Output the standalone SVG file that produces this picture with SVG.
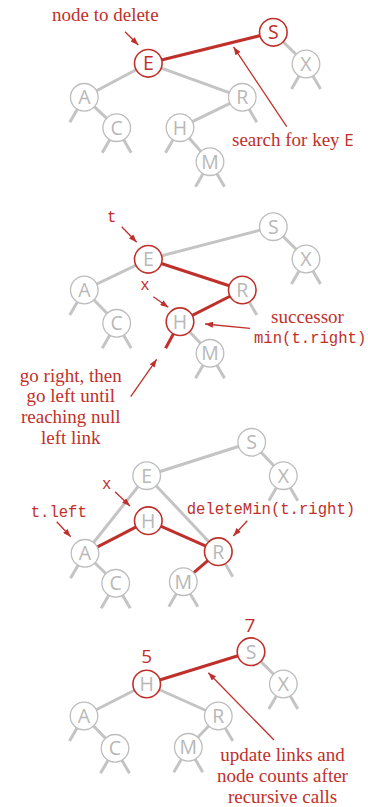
<svg xmlns="http://www.w3.org/2000/svg" width="368" height="807" viewBox="0 0 368 807">
<defs>
<style>
.bg{fill:#ffffff}
.lk{stroke:#c4c4c4;stroke-width:3;fill:none}
.rl{stroke:#c0302b;stroke-width:3;fill:none}
.nc{fill:#ffffff;stroke:#bdbdbd;stroke-width:1.3}
.rc{fill:#ffffff;stroke:#c0302b;stroke-width:1.6}
.nt{font-family:"Open Sans","DejaVu Sans",sans-serif;font-size:19.5px;fill:#b8b8b8;text-anchor:middle}
.rt{fill:#c0302b}
.ar{stroke:#c0302b;stroke-width:1.3;fill:none;marker-end:url(#ah)}
.sf{font-family:"Liberation Serif","Times New Roman",serif;font-size:19px;fill:#c0302b}
.mo{font-family:"Liberation Mono","Courier New",monospace;font-size:15.6px;fill:#c0302b}
.ss{font-family:"Open Sans","DejaVu Sans",sans-serif;font-size:19px;fill:#c0302b}
</style>
<marker id="ah" markerUnits="userSpaceOnUse" markerWidth="8" markerHeight="6" refX="8" refY="3" orient="auto">
<path d="M0,0 L8,3 L0,6 z" fill="#c0302b"/>
</marker>
</defs>
<rect class="bg" x="0" y="0" width="368" height="807"/>

<!-- ===== Panel 1 ===== -->
<g id="connectors1">
<line class="rl" x1="148.3" y1="63.3" x2="273.3" y2="32.3"/>
<line class="lk" x1="273.3" y1="32.3" x2="306" y2="64"/>
<line class="lk" x1="148.3" y1="63.3" x2="84.3" y2="97.3"/>
<line class="lk" x1="148.3" y1="63.3" x2="242.3" y2="97.3"/>
<line class="lk" x1="84.3" y1="97.3" x2="116.7" y2="127.7"/>
<line class="lk" x1="242.3" y1="97.3" x2="180" y2="127.7"/>
<line class="lk" x1="180" y1="127.7" x2="210" y2="161.7"/>
<line class="lk" x1="84.3" y1="97.3" x2="69.8" y2="122.3"/>
<line class="lk" x1="242.3" y1="97.3" x2="256.8" y2="122.3"/>
<line class="lk" x1="116.7" y1="127.7" x2="102.2" y2="152.7"/>
<line class="lk" x1="116.7" y1="127.7" x2="131.2" y2="152.7"/>
<line class="lk" x1="180" y1="127.7" x2="165.5" y2="152.7"/>
<line class="lk" x1="210" y1="161.7" x2="195.5" y2="186.7"/>
<line class="lk" x1="210" y1="161.7" x2="224.5" y2="186.7"/>
<line class="lk" x1="306" y1="64" x2="291.5" y2="89"/>
<line class="lk" x1="306" y1="64" x2="320.5" y2="89"/>
<line class="ar" x1="125" y1="31.7" x2="138.3" y2="45"/>
<line class="ar" x1="286.7" y1="126.7" x2="233.5" y2="46.9"/>
</g>
<g id="p1-E"><circle class="rc" cx="148.3" cy="63.3" r="13.8"/><text class="nt rt" x="148.3" y="70.3">E</text></g>
<g id="p1-S"><circle class="rc" cx="273.3" cy="32.3" r="13.8"/><text class="nt rt" x="273.3" y="39.3">S</text></g>
<g id="p1-X"><circle class="nc" cx="306" cy="64" r="13.8"/><text class="nt" x="306" y="71">X</text></g>
<g id="p1-A"><circle class="nc" cx="84.3" cy="97.3" r="13.8"/><text class="nt" x="84.3" y="104.3">A</text></g>
<g id="p1-R"><circle class="nc" cx="242.3" cy="97.3" r="13.8"/><text class="nt" x="242.3" y="104.3">R</text></g>
<g id="p1-C"><circle class="nc" cx="116.7" cy="127.7" r="13.8"/><text class="nt" x="116.7" y="134.7">C</text></g>
<g id="p1-H"><circle class="nc" cx="180" cy="127.7" r="13.8"/><text class="nt" x="180" y="134.7">H</text></g>
<g id="p1-M"><circle class="nc" cx="210" cy="161.7" r="13.8"/><text class="nt" x="210" y="168.7">M</text></g>
<text class="sf" x="105.3" y="21" text-anchor="middle">node to delete</text>
<text class="sf" x="232" y="145.7">search for key <tspan font-family="'Open Sans','DejaVu Sans',sans-serif" font-size="17px">E</tspan></text>

<!-- ===== Panel 2 ===== -->
<g id="connectors2">
<line class="lk" x1="148.3" y1="259.3" x2="273.3" y2="226.7"/>
<line class="lk" x1="273.3" y1="226.7" x2="306" y2="259"/>
<line class="lk" x1="148.3" y1="259.3" x2="84.3" y2="290"/>
<line class="rl" x1="148.3" y1="259.3" x2="242.3" y2="290"/>
<line class="lk" x1="84.3" y1="290" x2="116.7" y2="323.3"/>
<line class="rl" x1="242.3" y1="290" x2="180" y2="321.7"/>
<line class="lk" x1="180" y1="321.7" x2="210" y2="353.3"/>
<line class="rl" x1="180" y1="321.7" x2="165.6" y2="348.3"/>
<line class="lk" x1="84.3" y1="290" x2="69.8" y2="315"/>
<line class="lk" x1="242.3" y1="290" x2="256.8" y2="315"/>
<line class="lk" x1="116.7" y1="323.3" x2="102.2" y2="348.3"/>
<line class="lk" x1="116.7" y1="323.3" x2="131.2" y2="348.3"/>
<line class="lk" x1="210" y1="353.3" x2="195.5" y2="378.3"/>
<line class="lk" x1="210" y1="353.3" x2="224.5" y2="378.3"/>
<line class="lk" x1="306" y1="259" x2="291.5" y2="284"/>
<line class="lk" x1="306" y1="259" x2="320.5" y2="284"/>
<line class="ar" x1="121.7" y1="226.7" x2="136.7" y2="242.3"/>
<line class="ar" x1="153.3" y1="296.7" x2="168.3" y2="307.3"/>
<line class="ar" x1="250" y1="328.3" x2="205" y2="324"/>
<line class="ar" x1="130.7" y1="396.7" x2="156.7" y2="359.3"/>
</g>
<g id="p2-E"><circle class="rc" cx="148.3" cy="259.3" r="13.8"/><text class="nt" x="148.3" y="266.3">E</text></g>
<g id="p2-S"><circle class="nc" cx="273.3" cy="226.7" r="13.8"/><text class="nt" x="273.3" y="233.7">S</text></g>
<g id="p2-X"><circle class="nc" cx="306" cy="259" r="13.8"/><text class="nt" x="306" y="266">X</text></g>
<g id="p2-A"><circle class="nc" cx="84.3" cy="290" r="13.8"/><text class="nt" x="84.3" y="297">A</text></g>
<g id="p2-R"><circle class="rc" cx="242.3" cy="290" r="13.8"/><text class="nt" x="242.3" y="297">R</text></g>
<g id="p2-C"><circle class="nc" cx="116.7" cy="323.3" r="13.8"/><text class="nt" x="116.7" y="330.3">C</text></g>
<g id="p2-H"><circle class="rc" cx="180" cy="321.7" r="13.8"/><text class="nt" x="180" y="328.7">H</text></g>
<g id="p2-M"><circle class="nc" cx="210" cy="353.3" r="13.8"/><text class="nt" x="210" y="360.3">M</text></g>
<text class="mo" x="111.7" y="221.7" text-anchor="middle">t</text>
<text class="mo" x="145" y="290" text-anchor="middle">x</text>
<text class="sf" x="307.5" y="322.7" text-anchor="middle">successor</text>
<text class="mo" x="254" y="343.3">min(t.right)</text>
<text class="sf" x="70.8" y="381.7" text-anchor="middle">go right, then</text>
<text class="sf" x="70.8" y="402.2" text-anchor="middle">go left until</text>
<text class="sf" x="70.8" y="423" text-anchor="middle">reaching null</text>
<text class="sf" x="70.8" y="443.5" text-anchor="middle">left link</text>

<!-- ===== Panel 3 ===== -->
<g id="connectors3">
<line class="lk" x1="146.7" y1="475.7" x2="251.7" y2="442.3"/>
<line class="lk" x1="251.7" y1="442.3" x2="283.3" y2="475.7"/>
<line class="lk" x1="146.7" y1="475.7" x2="85" y2="553.3"/>
<line class="lk" x1="146.7" y1="475.7" x2="218.3" y2="551.7"/>
<line class="rl" x1="148.3" y1="520.7" x2="85" y2="553.3"/>
<line class="rl" x1="148.3" y1="520.7" x2="218.3" y2="551.7"/>
<line class="rl" x1="218.3" y1="551.7" x2="183.3" y2="581.7"/>
<line class="lk" x1="85" y1="553.3" x2="115.7" y2="583.3"/>
<line class="lk" x1="85" y1="553.3" x2="70.5" y2="578.3"/>
<line class="lk" x1="218.3" y1="551.7" x2="232.8" y2="576.7"/>
<line class="lk" x1="115.7" y1="583.3" x2="101.2" y2="608.3"/>
<line class="lk" x1="115.7" y1="583.3" x2="130.2" y2="608.3"/>
<line class="lk" x1="183.3" y1="581.7" x2="168.8" y2="606.7"/>
<line class="lk" x1="183.3" y1="581.7" x2="197.8" y2="606.7"/>
<line class="lk" x1="283.3" y1="475.7" x2="268.8" y2="500.7"/>
<line class="lk" x1="283.3" y1="475.7" x2="297.8" y2="500.7"/>
<line class="ar" x1="115" y1="491.7" x2="130" y2="506"/>
<line class="ar" x1="56.7" y1="521.7" x2="70.7" y2="536.7"/>
<line class="ar" x1="247.3" y1="520.7" x2="233.3" y2="536"/>
</g>
<g id="p3-S"><circle class="nc" cx="251.7" cy="442.3" r="13.8"/><text class="nt" x="251.7" y="449.3">S</text></g>
<g id="p3-E"><circle class="nc" cx="146.7" cy="475.7" r="13.8"/><text class="nt" x="146.7" y="482.7">E</text></g>
<g id="p3-X"><circle class="nc" cx="283.3" cy="475.7" r="13.8"/><text class="nt" x="283.3" y="482.7">X</text></g>
<g id="p3-H"><circle class="rc" cx="148.3" cy="520.7" r="13.8"/><text class="nt" x="148.3" y="527.7">H</text></g>
<g id="p3-A"><circle class="nc" cx="85" cy="553.3" r="13.8"/><text class="nt" x="85" y="560.3">A</text></g>
<g id="p3-R"><circle class="rc" cx="218.3" cy="551.7" r="13.8"/><text class="nt" x="218.3" y="558.7">R</text></g>
<g id="p3-C"><circle class="nc" cx="115.7" cy="583.3" r="13.8"/><text class="nt" x="115.7" y="590.3">C</text></g>
<g id="p3-M"><circle class="nc" cx="183.3" cy="581.7" r="13.8"/><text class="nt" x="183.3" y="588.7">M</text></g>
<text class="mo" x="106.7" y="489.3" text-anchor="middle">x</text>
<text class="mo" x="30.7" y="516.7">t.left</text>
<text class="mo" x="186.7" y="514.3">deleteMin(t.right)</text>

<!-- ===== Panel 4 ===== -->
<g id="connectors4">
<line class="rl" x1="146.7" y1="684" x2="251" y2="651.7"/>
<line class="lk" x1="251" y1="651.7" x2="283.3" y2="684"/>
<line class="lk" x1="146.7" y1="684" x2="84" y2="716"/>
<line class="lk" x1="146.7" y1="684" x2="218.3" y2="716"/>
<line class="lk" x1="84" y1="716" x2="115" y2="748.3"/>
<line class="lk" x1="218.3" y1="716" x2="188.3" y2="747.3"/>
<line class="lk" x1="84" y1="716" x2="69.5" y2="741"/>
<line class="lk" x1="218.3" y1="716" x2="232.8" y2="741"/>
<line class="lk" x1="115" y1="748.3" x2="100.5" y2="773.3"/>
<line class="lk" x1="115" y1="748.3" x2="129.5" y2="773.3"/>
<line class="lk" x1="188.3" y1="747.3" x2="173.8" y2="772.3"/>
<line class="lk" x1="188.3" y1="747.3" x2="202.8" y2="772.3"/>
<line class="lk" x1="283.3" y1="684" x2="268.8" y2="709"/>
<line class="lk" x1="283.3" y1="684" x2="297.8" y2="709"/>
<line class="ar" x1="274" y1="740" x2="208.3" y2="672.7"/>
</g>
<g id="p4-S"><circle class="rc" cx="251" cy="651.7" r="13.8"/><text class="nt" x="251" y="658.7">S</text></g>
<g id="p4-H"><circle class="rc" cx="146.7" cy="684" r="13.8"/><text class="nt" x="146.7" y="691">H</text></g>
<g id="p4-X"><circle class="nc" cx="283.3" cy="684" r="13.8"/><text class="nt" x="283.3" y="691">X</text></g>
<g id="p4-A"><circle class="nc" cx="84" cy="716" r="13.8"/><text class="nt" x="84" y="723">A</text></g>
<g id="p4-R"><circle class="nc" cx="218.3" cy="716" r="13.8"/><text class="nt" x="218.3" y="723">R</text></g>
<g id="p4-C"><circle class="nc" cx="115" cy="748.3" r="13.8"/><text class="nt" x="115" y="755.3">C</text></g>
<g id="p4-M"><circle class="nc" cx="188.3" cy="747.3" r="13.8"/><text class="nt" x="188.3" y="754.3">M</text></g>
<text class="ss" x="146.7" y="663.3" text-anchor="middle">5</text>
<text class="ss" x="250" y="631.7" text-anchor="middle">7</text>
<text class="sf" x="282.5" y="760.7" text-anchor="middle">update links and</text>
<text class="sf" x="282.5" y="782.2" text-anchor="middle">node counts after</text>
<text class="sf" x="282.5" y="803.3" text-anchor="middle">recursive calls</text>
</svg>
